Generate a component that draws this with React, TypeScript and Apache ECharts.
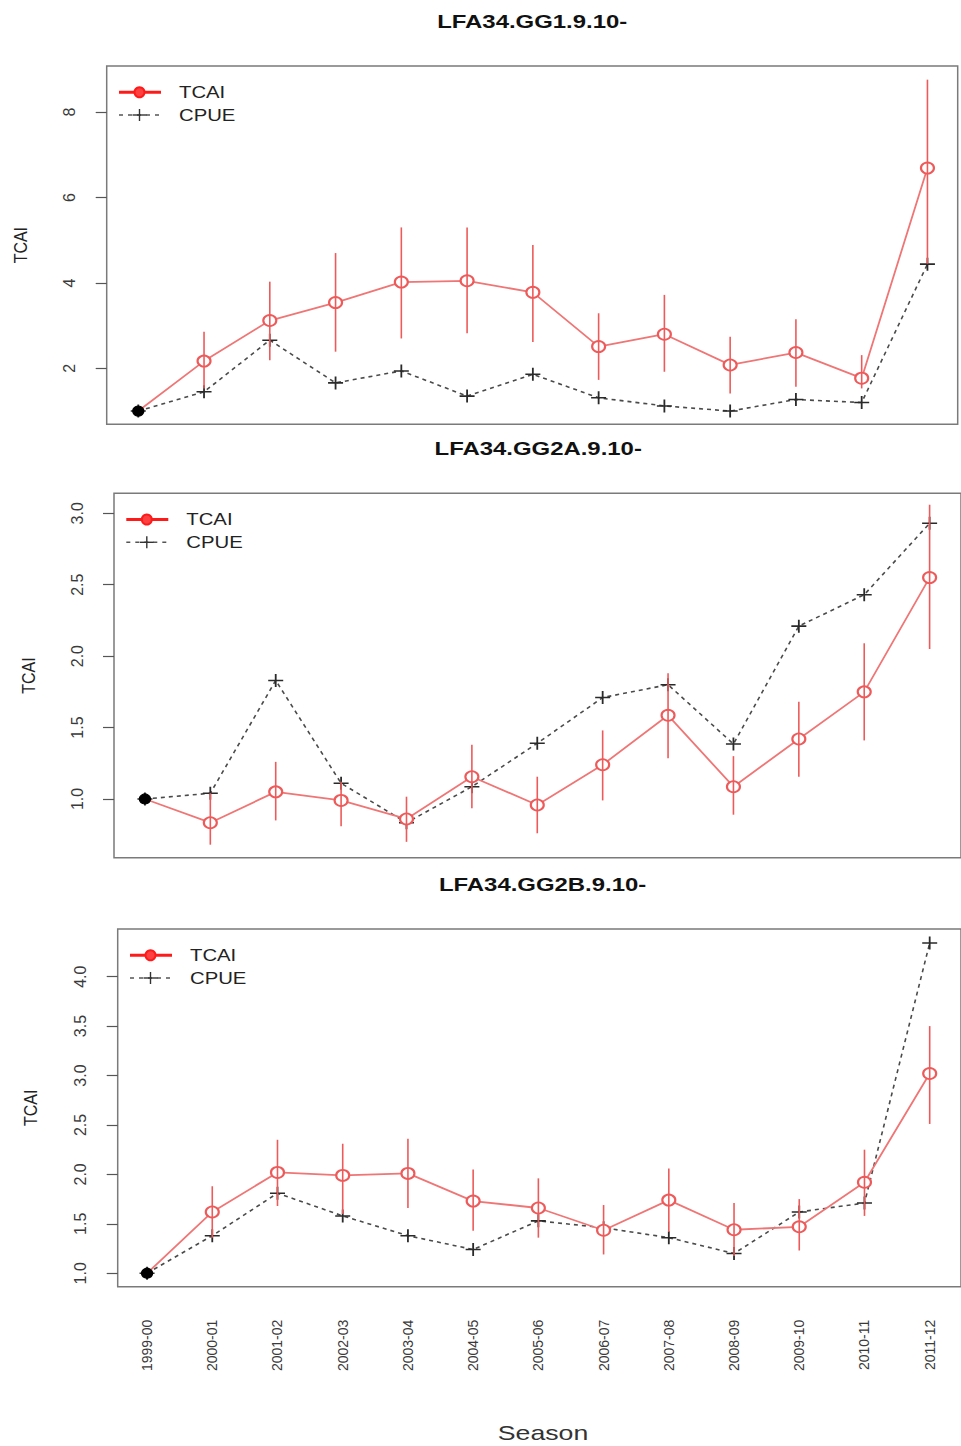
import React, { useEffect, useRef } from "react";
import * as echarts from "echarts";

const seasons = [
  "1999-00", "2000-01", "2001-02", "2002-03", "2003-04", "2004-05", "2005-06",
  "2006-07", "2007-08", "2008-09", "2009-10", "2010-11", "2011-12",
];

// Panel 1: LFA34.GG1.9.10-
const gg1Tcai = [1.0, 2.17, 3.12, 3.54, 4.02, 4.05, 3.78, 2.51, 2.8, 2.08, 2.37, 1.77, 6.69];
const gg1Lower = [null, 1.53, 2.19, 2.39, 2.7, 2.82, 2.62, 1.73, 1.92, 1.41, 1.57, 1.53, 4.45];
const gg1Upper = [null, 2.86, 4.03, 4.7, 5.3, 5.3, 4.89, 3.29, 3.72, 2.74, 3.15, 2.31, 8.76];
const gg1Cpue = [1.0, 1.45, 2.66, 1.66, 1.94, 1.35, 1.86, 1.31, 1.12, 1.0, 1.27, 1.2, 4.44];
const gg1Ticks = [2, 4, 6, 8];

// Panel 2: LFA34.GG2A.9.10-
const gg2aTcai = [1.0, 0.834, 1.05, 0.99, 0.86, 1.156, 0.958, 1.24, 1.586, 1.086, 1.42, 1.75, 2.55];
const gg2aLower = [null, 0.68, 0.85, 0.81, 0.7, 0.935, 0.76, 0.99, 1.285, 0.89, 1.156, 1.41, 2.05];
const gg2aUpper = [null, 1.04, 1.26, 1.12, 1.016, 1.38, 1.156, 1.48, 1.88, 1.3, 1.68, 2.09, 3.06];
const gg2aCpue = [1.0, 1.04, 1.83, 1.11, 0.834, 1.086, 1.39, 1.71, 1.8, 1.385, 2.21, 2.43, 2.93];
const gg2aTicks = [1.0, 1.5, 2.0, 2.5, 3.0];

// Panel 3: LFA34.GG2B.9.10-
const gg2bTcai = [1.0, 1.62, 2.02, 1.99, 2.01, 1.73, 1.66, 1.435, 1.74, 1.44, 1.47, 1.92, 3.02];
const gg2bLower = [null, 1.36, 1.68, 1.6, 1.66, 1.43, 1.36, 1.19, 1.42, 1.175, 1.23, 1.58, 2.51];
const gg2bUpper = [null, 1.88, 2.35, 2.31, 2.36, 2.05, 1.96, 1.69, 2.06, 1.71, 1.75, 2.25, 3.5];
const gg2bCpue = [1.0, 1.38, 1.81, 1.58, 1.38, 1.24, 1.53, 1.46, 1.36, 1.2, 1.62, 1.71, 4.34];
const gg2bTicks = [1.0, 1.5, 2.0, 2.5, 3.0, 3.5, 4.0];

const panelTitles = ["LFA34.GG1.9.10-", "LFA34.GG2A.9.10-", "LFA34.GG2B.9.10-"];
const seriesNames = ["TCAI", "CPUE"];
const yAxisName = "TCAI";
const xAxisName = "Season";

const panels = [
  { title: panelTitles[0], tcai: gg1Tcai, lower: gg1Lower, upper: gg1Upper, cpue: gg1Cpue, ticks: gg1Ticks, yMin: 0.69, yMax: 9.08, decimals: 0 },
  { title: panelTitles[1], tcai: gg2aTcai, lower: gg2aLower, upper: gg2aUpper, cpue: gg2aCpue, ticks: gg2aTicks, yMin: 0.589, yMax: 3.14, decimals: 1 },
  { title: panelTitles[2], tcai: gg2bTcai, lower: gg2bLower, upper: gg2bUpper, cpue: gg2bCpue, ticks: gg2bTicks, yMin: 0.864, yMax: 4.482, decimals: 1 },
];

// layout (pixels)
const layouts = [
  { left: 106.7, top: 66, width: 851, height: 358.3, xMin: -0.48, xMax: 12.46, nameX: 20, titleY: 22 },
  { left: 114, top: 493.3, width: 848.4, height: 364.4, xMin: -0.473, xMax: 12.48, nameX: 28, titleY: 449 },
  { left: 117.7, top: 929, width: 849.8, height: 357.7, xMin: -0.45, xMax: 12.48, nameX: 30, titleY: 885 },
];

const FONT = "'Liberation Sans', Arial, Helvetica, sans-serif";
const LINE_RED = "#f07575";
const BAR_RED = "#ee5a5a";
const CIRCLE_RED = "#ee5a5a";
const CPUE_GREY = "#4a4a4a";
const PLUS_PATH = "path://M4.4,0H5.6V4.4H10V5.6H5.6V10H4.4V5.6H0V4.4H4.4Z";

export default function App() {
  const ref = useRef<HTMLDivElement>(null);

  useEffect(() => {
    if (!ref.current) return;
    const chart = echarts.init(ref.current, null, { renderer: "svg" });

    const grid: any[] = [];
    const xAxis: any[] = [];
    const yAxis: any[] = [];
    const series: any[] = [];
    const graphic: any[] = [];

    panels.forEach((p, gi) => {
      const L = layouts[gi];
      const isLast = gi === panels.length - 1;
      grid.push({
        left: L.left, top: L.top, width: L.width, height: L.height,
        show: true, borderColor: "#7a7a7a", borderWidth: 1.5, backgroundColor: "transparent",
      });
      xAxis.push({
        type: "value", gridIndex: gi, min: L.xMin, max: L.xMax,
        axisLine: { show: false, onZero: false }, axisTick: { show: false }, splitLine: { show: false },
        axisLabel: {
          show: isLast,
          customValues: seasons.map((_, i) => i),
          formatter: (v: number) => seasons[Math.round(v)] ?? "",
          rotate: 90, margin: 33, fontSize: 14, color: "#3a3a3a", fontFamily: FONT,
        },
      });
      yAxis.push({
        type: "value", gridIndex: gi, min: p.yMin, max: p.yMax,
        axisLine: { show: false, onZero: false },
        splitLine: { show: false },
        axisTick: { show: true, length: 11, customValues: p.ticks, lineStyle: { color: "#555", width: 1.2 } },
        axisLabel: {
          customValues: p.ticks,
          formatter: (v: number) => v.toFixed(p.decimals),
          rotate: 90, margin: 29, fontSize: 16, color: "#3a3a3a", fontFamily: FONT,
        },
      });

      // CPUE
      series.push({
        type: "line", name: seriesNames[1], xAxisIndex: gi, yAxisIndex: gi, z: 3,
        data: p.cpue.map((v, i) => [i, v]),
        symbol: PLUS_PATH, symbolSize: [15, 13], showAllSymbol: true,
        itemStyle: { color: "#2a2a2a" },
        lineStyle: { color: CPUE_GREY, width: 1.6, type: [4, 4] },
      });
      // TCAI
      series.push({
        type: "line", name: seriesNames[0], xAxisIndex: gi, yAxisIndex: gi, z: 4,
        data: p.tcai.map((v, i) =>
          i === 0
            ? { value: [i, v], symbol: "circle", symbolSize: [11, 10], itemStyle: { color: "#000", borderColor: "#000" } }
            : [i, v]
        ),
        symbol: "emptyCircle", symbolSize: [13, 11], showAllSymbol: true,
        itemStyle: { color: CIRCLE_RED, borderWidth: 1.2 },
        lineStyle: { color: LINE_RED, width: 1.8 },
      });
      // error bars (on top, passing through the open circles)
      series.push({
        type: "custom", xAxisIndex: gi, yAxisIndex: gi, z: 5,
        data: p.lower.map((lo, i) => (lo == null ? null : [i, lo, p.upper[i]])).filter((d) => d != null),
        encode: { x: 0, y: [1, 2] },
        renderItem: (_params: any, api: any) => {
          const x = api.value(0);
          const a = api.coord([x, api.value(1)]);
          const b = api.coord([x, api.value(2)]);
          return {
            type: "line",
            shape: { x1: a[0], y1: a[1], x2: b[0], y2: b[1] },
            style: { stroke: BAR_RED, lineWidth: 1.6 },
          };
        },
      });

      // title
      graphic.push({
        type: "text", x: L.left + L.width / 2, y: L.titleY, scaleX: 1.33,
        style: { text: p.title, fontSize: 18, fontWeight: "bold", fill: "#111", align: "center", verticalAlign: "middle", fontFamily: FONT },
      });
      // y axis name
      graphic.push({
        type: "text", x: L.nameX, y: L.top + L.height / 2, rotation: Math.PI / 2, scaleY: 1.2,
        style: { text: yAxisName, fontSize: 16, fill: "#222", align: "center", verticalAlign: "middle", fontFamily: FONT },
      });
      // legend
      const lx = L.left + 12.3;
      const ly1 = L.top + 26.2;
      const ly2 = L.top + 49;
      graphic.push({ type: "line", shape: { x1: lx, y1: ly1, x2: lx + 42, y2: ly1 }, style: { stroke: "#ff1a1a", lineWidth: 3 } });
      graphic.push({ type: "circle", shape: { cx: lx + 20.5, cy: ly1, r: 5 }, style: { fill: "#ff4040", stroke: "#ff1a1a", lineWidth: 2 } });
      graphic.push({
        type: "text", x: lx + 60, y: ly1, scaleX: 1.27,
        style: { text: seriesNames[0], fontSize: 16, fill: "#222", align: "left", verticalAlign: "middle", fontFamily: FONT },
      });
      graphic.push({ type: "line", shape: { x1: lx, y1: ly2, x2: lx + 42, y2: ly2 }, style: { stroke: "#555", lineWidth: 1.5, lineDash: [4, 5] } });
      graphic.push({ type: "line", shape: { x1: lx + 20.5, y1: ly2 - 6, x2: lx + 20.5, y2: ly2 + 6 }, style: { stroke: "#333", lineWidth: 1.4 } });
      graphic.push({ type: "line", shape: { x1: lx + 13.5, y1: ly2, x2: lx + 27.5, y2: ly2 }, style: { stroke: "#333", lineWidth: 1.4 } });
      graphic.push({
        type: "text", x: lx + 60, y: ly2, scaleX: 1.27,
        style: { text: seriesNames[1], fontSize: 16, fill: "#222", align: "left", verticalAlign: "middle", fontFamily: FONT },
      });
    });

    graphic.push({
      type: "text", x: 543, y: 1433, scaleX: 1.27,
      style: { text: xAxisName, fontSize: 21, fill: "#333", align: "center", verticalAlign: "middle", fontFamily: FONT },
    });

    chart.setOption({
      animation: false,
      backgroundColor: "#fff",
      textStyle: { fontFamily: FONT },
      grid, xAxis, yAxis, series, graphic,
    });

    return () => chart.dispose();
  }, []);

  return (
    <div
      ref={ref}
      style={{ position: "absolute", left: 0, top: 0, width: 961, height: 1446 }}
    />
  );
}
